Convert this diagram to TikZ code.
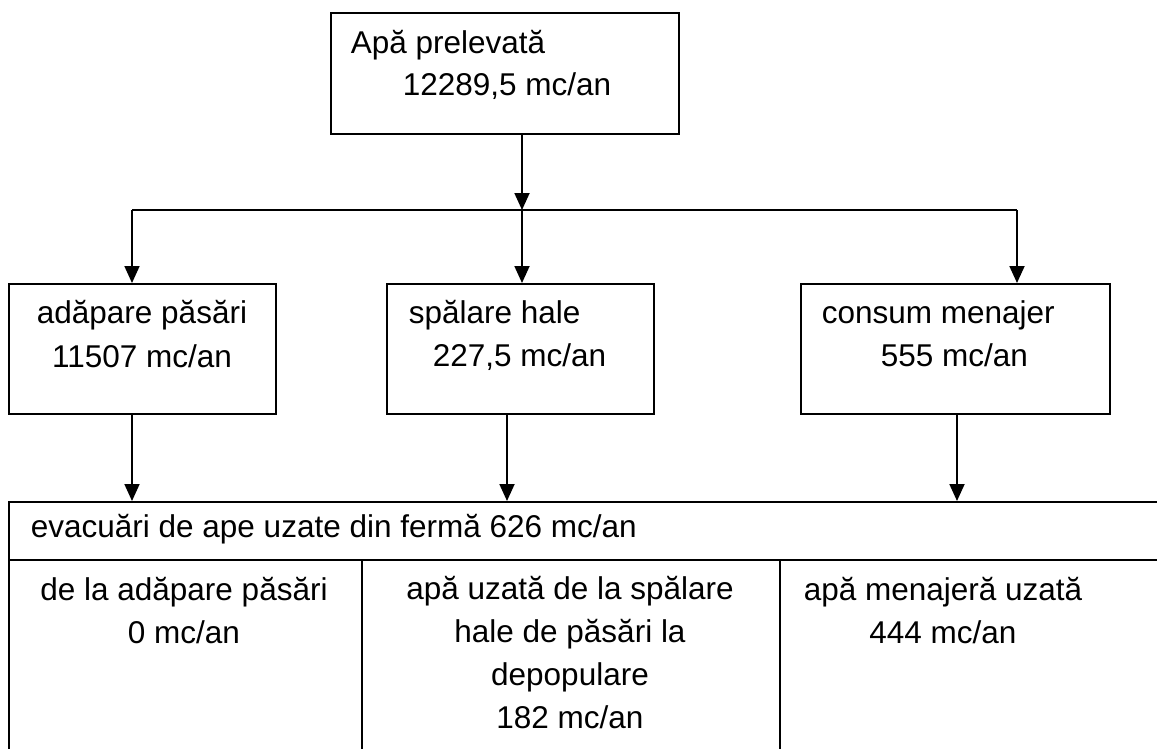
\documentclass[tikz,border=0pt]{standalone}
\usepackage{fontspec}
\setmainfont{Liberation Sans}
\usetikzlibrary{arrows.meta}

\begin{document}
\begin{tikzpicture}[x=1pt,y=-1pt,line width=1.8pt,
    font=\fontsize{31.5}{43}\selectfont,
    box/.style={draw,rectangle,inner sep=0pt,anchor=north west},
    txt/.style={inner sep=0pt,anchor=base west},
    ctxt/.style={inner sep=0pt,anchor=base,align=center},
    arr/.style={-{Triangle[length=17pt,width=15pt]}}]
\clip (0,0) rectangle (1157,748);
\useasboundingbox (0,0) rectangle (1157,748);
%The source box at the top, with its two lines of text
\node[box,minimum width=348pt,minimum height=121pt] (p) at (330,12) {};
\node[txt] (p1) at (350,53) {Apă prelevată};
\node[txt] (p2) at (402,95) {12289,5 mc/an};
%The three uses of the water
\node[box,minimum width=267pt,minimum height=130pt] (a) at (8,283) {};
\node[ctxt] (a1) at (142,323) {adăpare păsări};
\node[ctxt] (a2) at (142,367) {11507 mc/an};
\node[box,minimum width=267pt,minimum height=130pt] (b) at (386,283) {};
\node[txt] (b1) at (408,323) {spălare hale};
\node[txt] (b2) at (432,366) {227,5 mc/an};
\node[box,minimum width=309pt,minimum height=130pt] (c) at (800,283) {};
\node[txt] (c1) at (821,323) {consum menajer};
\node[txt] (c2) at (880,366) {555 mc/an};
%The table of waste water, cut off at the right and at the bottom
% (a centred text is placed by the baseline of its last line)
\node[box,minimum width=1162pt,minimum height=58pt] (e) at (8,501) {};
\node[txt] (e0) at (30,537) {evacuări de ape uzate din fermă 626 mc/an};
\node[box,minimum width=353pt,minimum height=200pt] (e1) at (8,559) {};
\node[box,minimum width=418pt,minimum height=200pt] (e2) at (361,559) {};
\node[box,minimum width=391pt,minimum height=200pt] (e3) at (779,559) {};
\node[ctxt] (e1t) at (184,643) {de la adăpare păsări\\0 mc/an};
\node[ctxt] (e2t) at (570,728) {apă uzată de la spălare\\hale de păsări la\\depopulare\\182 mc/an};
\node[ctxt] (e3t) at (943,643) {apă menajeră uzată\\444 mc/an};
%Where the lines split, and where the arrows meet the table
\coordinate (j1) at (132,210);
\coordinate (j2) at (522,210);
\coordinate (j3) at (1017,210);
\coordinate (k1) at (132,501);
\coordinate (k2) at (507,501);
\coordinate (k3) at (957,501);
\draw[arr] (p.south -| j2) -- (j2);
\draw (j1) -- (j3);
\draw[arr] (j1) -- (j1 |- a.north);
\draw[arr] (j2) -- (j2 |- b.north);
\draw[arr] (j3) -- (j3 |- c.north);
\draw[arr] (a.south -| k1) -- (k1 |- e.north);
\draw[arr] (b.south -| k2) -- (k2 |- e.north);
\draw[arr] (c.south -| k3) -- (k3 |- e.north);
\end{tikzpicture}
\end{document}
